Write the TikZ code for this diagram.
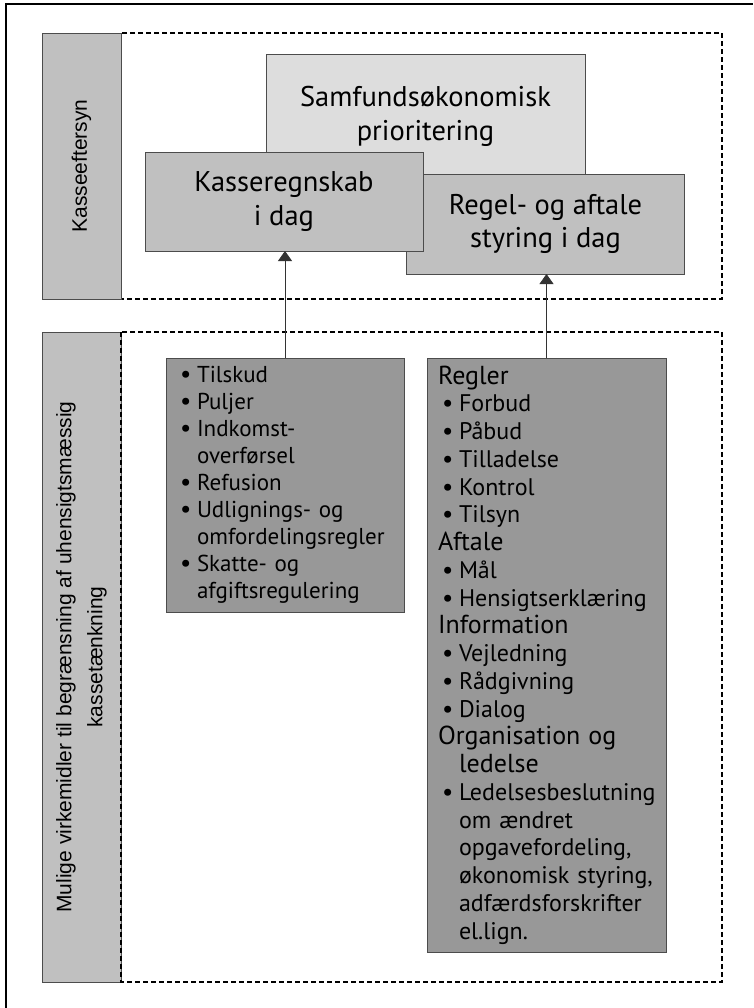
\documentclass[tikz,border=0pt]{standalone}
\usepackage{fontspec}
\setmainfont{PT Sans}
\newfontfamily\sidefont{Liberation Sans}
\usetikzlibrary{arrows.meta}

\definecolor{lysgraa}{HTML}{DDDDDD}
\definecolor{mellemgraa}{HTML}{C0C0C0}
\definecolor{moerkgraa}{HTML}{989898}

\newlength{\pktind}
\newcommand{\pkt}[1]{\hspace*{\pktind}\makebox[17pt][l]{\fontsize{25}{25}\selectfont\textbullet}#1}
\newcommand{\fortsat}[1]{\hspace*{\pktind}\hspace*{17pt}#1}
\newcommand{\overskrift}[1]{{\fontsize{26}{26}\selectfont #1}}

\begin{document}
\begin{tikzpicture}[x=1pt, y=-1pt,
  felt/.style={draw=black!70, line width=0.8pt, inner sep=0pt, outer sep=0pt},
  sidebar/.style={felt, fill=mellemgraa, rotate=90, minimum height=79pt,
    font=\sidefont\fontsize{21}{31}\selectfont, align=center},
  topboks/.style={felt, minimum width=278pt, minimum height=100pt,
    font=\fontsize{28.5}{33.5}\selectfont, align=center},
  listeboks/.style={felt, fill=moerkgraa, anchor=north west, minimum width=238pt,
    align=left, font=\fontsize{23}{27}\selectfont},
  stiplet/.style={dash pattern=on 5pt off 3pt, line width=1.6pt},
  pil/.style={-{Triangle[width=14pt,length=10pt]}, draw=black!80, line width=0.8pt}]

\useasboundingbox (0,0) rectangle (753,1008);

% Ramme
\draw[line width=2pt] (6,1008) -- (6,4) -- (753,4);

% Kasseeftersyn
\draw[stiplet] (121,33) rectangle (722,299);
\node[sidebar, minimum width=266pt] (eftersyn) at (81.5,166) {Kasseeftersyn};

\node[topboks, fill=lysgraa, minimum width=319pt, minimum height=126pt] (samf) at (425.5,117)
  {\raisebox{6pt}{\begin{tabular}{@{}c@{}}Samfundsøkonomisk\\prioritering\end{tabular}}};
\node[topboks, fill=mellemgraa] (regel) at (545.5,224) {Regel- og aftale\\styring i dag};
\node[topboks, fill=mellemgraa, minimum height=99pt] (kasse) at (284,201.5) {Kasseregnskab\\i dag};

% Virkemidler
\node[sidebar, minimum width=650pt] (virkemidler) at (81.5,657)
  {Mulige virkemidler til begrænsning af uhensigtsmæssig\\kassetænkning};
\draw[stiplet] (121,332) rectangle (722,982);

\node[listeboks, minimum height=254pt, inner xsep=14pt, text width=210pt] (oekonomi) at (166,358)
  {\setlength{\pktind}{0pt}%
   \pkt{Tilskud}\\
   \pkt{Puljer}\\
   \pkt{Indkomst-}\\
   \fortsat{overførsel}\\
   \pkt{Refusion}\\
   \pkt{Udlignings- og}\\
   \fortsat{omfordelingsregler}\\
   \pkt{Skatte- og}\\
   \fortsat{afgiftsregulering}};

\node[listeboks, minimum width=239pt, minimum height=594pt, inner xsep=11pt, text width=217pt,
  font=\fontsize{24}{27.75}\selectfont] (styring) at (427,358)
  {\setlength{\pktind}{4pt}%
   \overskrift{Regler}\\
   \pkt{Forbud}\\
   \pkt{Påbud}\\
   \pkt{Tilladelse}\\
   \pkt{Kontrol}\\
   \pkt{Tilsyn}\\
   \overskrift{Aftale}\\
   \pkt{Mål}\\
   \pkt{Hensigtserklæring}\\
   \overskrift{Information}\\
   \pkt{Vejledning}\\
   \pkt{Rådgivning}\\
   \pkt{Dialog}\\
   \overskrift{Organisation og}\\
   \fortsat{\overskrift{ledelse}}\\
   \pkt{Ledelsesbeslutning}\\
   \fortsat{om ændret}\\
   \fortsat{opgavefordeling,}\\
   \fortsat{økonomisk styring,}\\
   \fortsat{adfærdsforskrifter}\\
   \fortsat{el.lign.}};

% Pile
\draw[pil] (oekonomi.north) -- (oekonomi.north |- kasse.south);
\draw[pil] (styring.north) -- (styring.north |- regel.south);
\end{tikzpicture}
\end{document}
